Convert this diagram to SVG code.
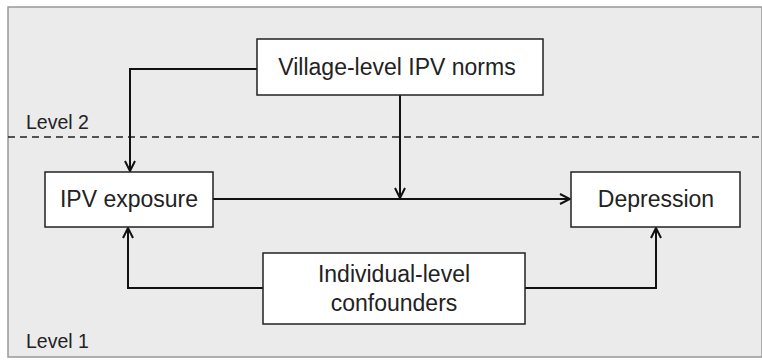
<svg xmlns="http://www.w3.org/2000/svg" width="762" height="360" viewBox="0 0 762 360">
<defs>
<style>
.box{fill:#fff;stroke:#222;stroke-width:1.5}
.t{font-family:"Liberation Sans",Arial,sans-serif;font-size:23px;fill:#222;text-anchor:middle}
.lv{font-family:"Liberation Sans",Arial,sans-serif;font-size:19.5px;fill:#222}
.c{fill:none;stroke:#111;stroke-width:2}
</style>
<marker id="ah" viewBox="0 0 12 12" refX="11" refY="6" markerWidth="12" markerHeight="12" markerUnits="userSpaceOnUse" orient="auto">
<path d="M1,1 L11,6 L1,11" fill="none" stroke="#111" stroke-width="2"/>
</marker>
</defs>
<rect x="0" y="0" width="762" height="360" fill="#fff"/>
<rect x="8" y="7" width="754" height="350" fill="#ebebeb" stroke="#999" stroke-width="1.5"/>
<line x1="8" y1="137" x2="762" y2="137" stroke="#222" stroke-width="1.5" stroke-dasharray="7,5"/>
<text class="lv" x="26" y="129">Level 2</text>
<text class="lv" x="26" y="348">Level 1</text>
<g id="connectors">
<path class="c" d="M257,69 H130 V171" marker-end="url(#ah)"/>
<path class="c" d="M400,95 V198" marker-end="url(#ah)"/>
<path class="c" d="M213,199 H570" marker-end="url(#ah)"/>
<path class="c" d="M263,288 H128 V228" marker-end="url(#ah)"/>
<path class="c" d="M525,288 H656 V228" marker-end="url(#ah)"/>
</g>
<g id="village">
<rect class="box" x="257" y="39" width="286" height="56"/>
<text class="t" x="397" y="75">Village-level IPV norms</text>
</g>
<g id="ipv">
<rect class="box" x="45" y="172" width="168" height="55"/>
<text class="t" x="129" y="207">IPV exposure</text>
</g>
<g id="depression">
<rect class="box" x="571" y="172" width="169" height="55"/>
<text class="t" x="656" y="207">Depression</text>
</g>
<g id="confounders">
<rect class="box" x="263" y="253" width="262" height="71"/>
<text class="t" x="394" y="282">Individual-level</text>
<text class="t" x="394" y="311">confounders</text>
</g>
</svg>
